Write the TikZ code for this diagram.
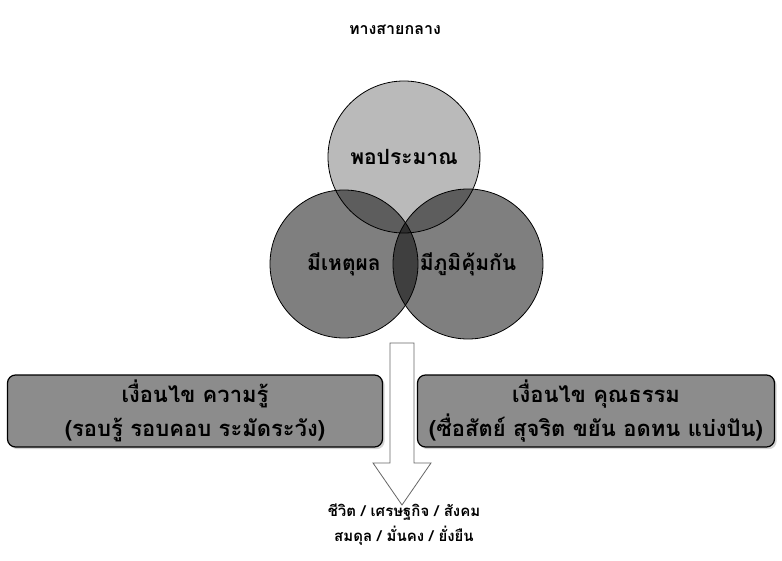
\documentclass[tikz,border=0pt]{standalone}
\usepackage{fontspec}
\newfontfamily\thaifont[Script=Thai]{Loma}
\usetikzlibrary{shadows}
\tikzset{
  ring/.style={circle, draw, line width=0.8pt, minimum size=148pt,
    fill=black, fill opacity=0.5, text opacity=1, font=\thaifont\bfseries\fontsize{21}{23}\selectfont},
  condbox/.style={rectangle, rounded corners=8pt, draw, line width=1.2pt, fill=black!45,
    minimum height=72pt, align=center, drop shadow={opacity=0.35},
    font=\thaifont\bfseries\fontsize{22}{34}\selectfont},
}
\begin{document}
\begin{tikzpicture}[x=1pt, y=-1pt]
    \useasboundingbox (0,0) rectangle (782,561);

    \node [font=\thaifont\bfseries\fontsize{16}{18}\selectfont] (title) at (395,30) {ทางสายกลาง};

    \node [ring, minimum size=152pt, fill opacity=0.27] (enough) at (404,157) {พอประมาณ};
    \node [ring] (reason) at (344,264) {มีเหตุผล};
    \node [ring, minimum size=150pt] (immune) at (468,264) {มีภูมิคุ้มกัน};

    \node [condbox, minimum width=375pt] (know) at (195,411) {เงื่อนไข ความรู้\\(รอบรู้ รอบคอบ ระมัดระวัง)};
    \node [condbox, minimum width=357pt, inner xsep=1pt] (virtue) at (596,411) {เงื่อนไข คุณธรรม\\(ซื่อสัตย์ สุจริต ขยัน อดทน แบ่งปัน)};

    % big arrow down to the result
    \draw [draw=black!60, fill=white, line width=0.8pt]
        (390,343) -- (414,343) -- (414,463) -- (431,463) -- (402,505)
        -- (373,463) -- (390,463) -- cycle;

    \node [font=\thaifont\bfseries\fontsize{15}{25}\selectfont, align=center] (result) at (404,525)
        {ชีวิต / เศรษฐกิจ / สังคม\\สมดุล / มั่นคง / ยั่งยืน};

\end{tikzpicture}
\end{document}
